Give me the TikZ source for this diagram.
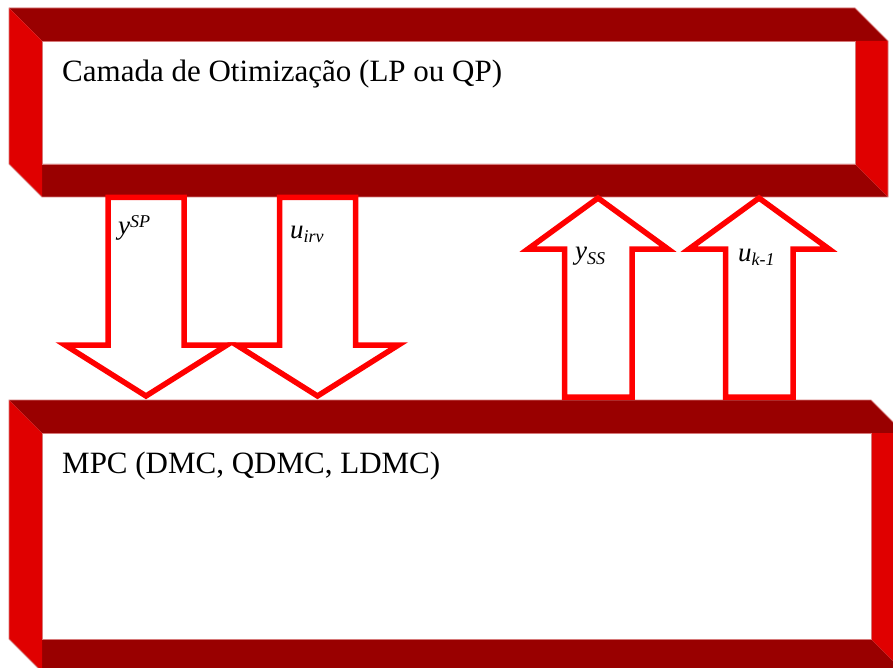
\documentclass[tikz,border=0pt]{standalone}
\usepackage{fontspec}
\setmainfont{Liberation Serif}
\definecolor{bandDark}{RGB}{153,0,0}
\definecolor{bandBright}{RGB}{224,0,0}
\definecolor{bandEdge}{RGB}{214,120,120}
\definecolor{arrowRed}{RGB}{255,0,0}

% Bevelled picture-frame box: x1 y1 x2 y2 band-thickness
\newcommand\redframe[5]{%
  \fill[bandDark] (#1,#2) -- (#3-#5,#2) -- (#3,#2+#5) -- (#1+#5,#2+#5) -- cycle;
  \fill[bandDark] (#1+#5,#4-#5) -- (#3-#5,#4-#5) -- (#3,#4) -- (#1+#5,#4) -- cycle;
  \fill[bandBright] (#1,#2) -- (#1+#5,#2+#5) -- (#1+#5,#4) -- (#1,#4-#5) -- cycle;
  \fill[bandBright] (#3-#5,#2+#5) -- (#3,#2+#5) -- (#3,#4) -- (#3-#5,#4-#5) -- cycle;
  \draw[frameedge] (#1,#2) -- (#3-#5,#2) -- (#3,#2+#5) -- (#3,#4) -- (#1+#5,#4) -- (#1,#4-#5) -- cycle;
  \draw[frameedge] (#1+#5,#2+#5) rectangle (#3-#5,#4-#5);
}

\begin{document}
\begin{tikzpicture}[x=1pt,y=-1pt,
  frameedge/.style={draw=bandEdge,line width=0.9pt},
  blockarrow/.style={draw=arrowRed,line width=5.5pt,line join=miter},
  layertext/.style={anchor=base west,inner sep=0pt,font=\fontsize{31}{37}\selectfont},
  sigtext/.style={anchor=base west,inner sep=0pt,font=\fontsize{27}{32}\selectfont\itshape}]
\newcommand\smallidx[1]{{\fontsize{18}{21}\selectfont #1}}
\clip (0,0) rectangle (893,668);
\fill[white] (0,0) rectangle (893,668);

% optimisation layer and MPC layer
\redframe{9}{8}{888}{197}{33}
\redframe{9}{400}{904}{672}{33}
\node[layertext] (opt) at (62,82) {Camada de Otimização (LP ou QP)};
\node[layertext] (mpc) at (62,473) {MPC (DMC, QDMC, LDMC)};

% downward block arrows (optimiser -> MPC)
\draw[blockarrow] (108,197.5) -- (184,197.5) -- (184,345) -- (227,345) -- (146,396)
  -- (65,345) -- (108,345) -- cycle;
\draw[blockarrow] (279.5,197.5) -- (355.5,197.5) -- (355.5,345) -- (398.5,345) -- (317.5,396)
  -- (236.5,345) -- (279.5,345) -- cycle;

% upward block arrows (MPC -> optimiser)
\draw[blockarrow] (564.5,397) -- (632,397) -- (632,249) -- (668,249) -- (598,198)
  -- (528,249) -- (564.5,249) -- cycle;
\draw[blockarrow] (725.5,397) -- (793,397) -- (793,249) -- (829,249) -- (759,198)
  -- (689,249) -- (725.5,249) -- cycle;

% signal labels
\node[sigtext] (ysp) at (118,235) {y\raisebox{8pt}{\smallidx{SP}}};
\node[sigtext] (uirv) at (290,238) {u\raisebox{-4pt}{\smallidx{irv}}};
\node[sigtext] (yss) at (575,259) {y\raisebox{-5pt}{\smallidx{SS}}};
\node[sigtext] (uk) at (738,261) {u\raisebox{-4pt}{\smallidx{k-1}}};
\end{tikzpicture}
\end{document}
